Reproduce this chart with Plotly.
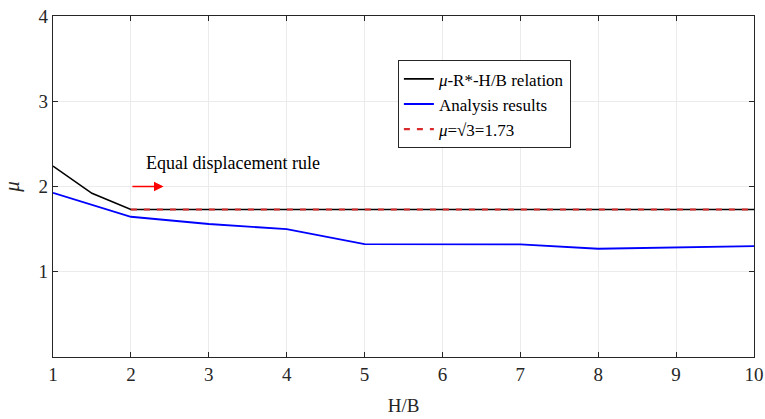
import plotly.graph_objects as go

# Data
hb_relation = [1, 1.5, 2, 3, 4, 5, 6, 7, 8, 9, 10]
mu_relation = [2.24, 1.92, 1.73, 1.73, 1.73, 1.73, 1.73, 1.73, 1.73, 1.73, 1.73]

hb_analysis = [1, 2, 3, 4, 5, 6, 7, 8, 9, 10]
mu_analysis = [1.925, 1.645, 1.56, 1.50, 1.325, 1.32, 1.32, 1.27, 1.285, 1.30]

hb_ref = [2, 10]
mu_ref = [1.73, 1.73]

x_ticks = [1, 2, 3, 4, 5, 6, 7, 8, 9, 10]
y_ticks = [1, 2, 3, 4]

FONT = "Liberation Serif"

fig = go.Figure()
fig.add_trace(go.Scatter(x=hb_relation, y=mu_relation, mode="lines",
                         line=dict(color="black", width=1.6),
                         name="<i>μ</i>-R*-H/B relation"))
fig.add_trace(go.Scatter(x=hb_analysis, y=mu_analysis, mode="lines",
                         line=dict(color="#0000ff", width=1.8),
                         name="Analysis results"))
fig.add_trace(go.Scatter(x=hb_ref, y=mu_ref, mode="lines",
                         line=dict(color="#d92b2b", width=2.2, dash="6px,7px"),
                         name="<i>μ</i>=√3=1.73"))

# arrow annotation
fig.add_annotation(x=2.42, y=2.0, ax=2.0, ay=2.0, xref="x", yref="y",
                   axref="x", ayref="y", showarrow=True, arrowhead=2,
                   arrowsize=1.2, arrowwidth=1.6, arrowcolor="#ff0000", text="")
fig.add_annotation(x=2.17, y=2.27, xref="x", yref="y", text="Equal displacement rule",
                   showarrow=False, xanchor="left", yanchor="middle",
                   font=dict(family=FONT, size=18, color="black"))

axis_common = dict(showline=True, linecolor="#262626", linewidth=1.3, mirror="ticks",
                   ticks="inside", ticklen=5, tickcolor="#262626", tickwidth=1.2,
                   showgrid=True, gridcolor="#ebebeb", gridwidth=1, zeroline=False,
                   automargin=False,
                   tickfont=dict(family=FONT, size=19, color="#262626"))

fig.update_xaxes(range=[1, 10], tickvals=x_ticks, ticktext=[str(v) for v in x_ticks],
                 title=dict(text="H/B", font=dict(family=FONT, size=19, color="#262626"), standoff=14),
                 **axis_common)
fig.update_yaxes(range=[0, 4], tickvals=y_ticks, ticktext=[str(v) for v in y_ticks],
                 title=dict(text="<i>μ</i>", font=dict(family=FONT, size=21, color="#262626"), standoff=14),
                 **axis_common)

fig.update_layout(
    width=765, height=419,
    margin=dict(l=53, r=11, t=16, b=62),
    paper_bgcolor="white", plot_bgcolor="white",
    font=dict(family=FONT, color="black"),
    showlegend=True,
    legend=dict(x=0.492, y=0.87, xanchor="left", yanchor="top",
                bgcolor="white", bordercolor="#262626", borderwidth=1,
                font=dict(family=FONT, size=17, color="black"),
                tracegroupgap=0, itemwidth=30),
)

fig.write_html("out.html")
